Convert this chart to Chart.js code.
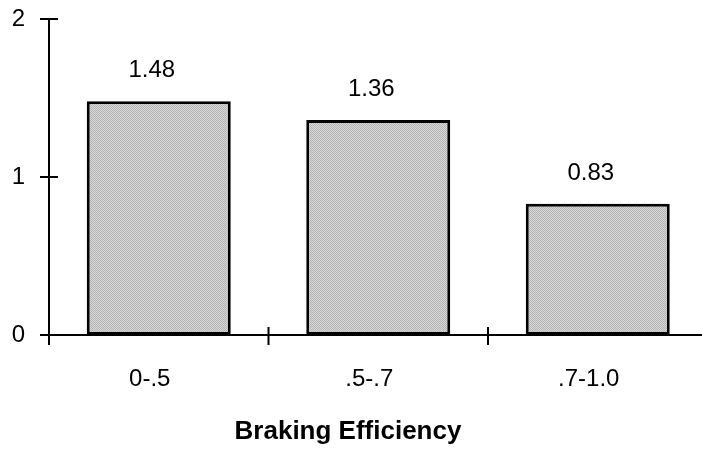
<!DOCTYPE html>
<html>
<head>
<meta charset="utf-8">
<script src="https://cdn.jsdelivr.net/npm/chart.js@4.4.0/dist/chart.umd.min.js"></script>
<style>
  html, body { margin: 0; padding: 0; background: #fff; overflow: hidden; }
  #wrap { width: 710px; height: 450px; }
</style>
</head>
<body>
<div id="wrap"><canvas id="chart" width="710" height="450"></canvas></div>
<script>
const categories = ['0-.5', '.5-.7', '.7-1.0'];
const values = [1.48, 1.36, 0.83];
const yTicks = [0, 1, 2];
const xTitle = 'Braking Efficiency';

const FONT = '"Liberation Sans", Arial, sans-serif';

// grey dotted fill like the old print pattern
function makePattern() {
    const c = document.createElement('canvas');
    c.width = 2;
    c.height = 2;
    const g = c.getContext('2d');
    g.fillStyle = '#d8d8d8';
    g.fillRect(0, 0, 2, 2);
    g.fillStyle = '#b4b4b4';
    g.fillRect(0, 0, 1, 1);
    g.fillRect(1, 1, 1, 1);
    return g.createPattern(c, 'repeat');
}

// axis lines with ticks crossing them, drawn from the scales
const axesPlugin = {
    id: 'axes',
    afterDatasetsDraw(chart) {
        const ctx = chart.ctx;
        const area = chart.chartArea;
        const x = chart.scales.x;
        const y = chart.scales.y;
        const x0 = area.left;
        const y0 = y.getPixelForValue(0);
        ctx.save();
        ctx.strokeStyle = '#000';
        ctx.lineWidth = 2;
        ctx.beginPath();
        ctx.moveTo(x0, y.getPixelForValue(yTicks[yTicks.length - 1]));
        ctx.lineTo(x0, y0 + 10);
        ctx.moveTo(x0, y0);
        ctx.lineTo(chart.width, y0);
        yTicks.forEach(v => {
            const py = y.getPixelForValue(v);
            ctx.moveTo(x0 - 9, py);
            ctx.lineTo(x0 + 9, py);
        });
        for (let i = 1; i <= categories.length; i++) {
            const px = x.getPixelForValue(i - 0.5);
            ctx.moveTo(px, y0 - 8);
            ctx.lineTo(px, y0 + 10);
        }
        ctx.stroke();

        // value labels above the bars
        ctx.fillStyle = '#000';
        ctx.font = '24px ' + FONT;
        ctx.textAlign = 'center';
        ctx.textBaseline = 'alphabetic';
        chart.getDatasetMeta(0).data.forEach((bar, i) => {
            ctx.fillText(values[i].toFixed(2), bar.x - 7, bar.y - 24);
        });

        // axis title
        ctx.font = 'bold 26px ' + FONT;
        ctx.textBaseline = 'middle';
        ctx.fillText(xTitle, 348, 432);
        ctx.restore();
    }
};

new Chart(document.getElementById('chart').getContext('2d'), {
    type: 'bar',
    data: {
        labels: categories,
        datasets: [{
            data: values,
            backgroundColor: makePattern(),
            borderColor: '#000',
            borderWidth: 3,
            borderSkipped: false,
            barPercentage: 0.656,
            categoryPercentage: 1.0,
        }],
    },
    options: {
        responsive: false,
        animation: false,
        layout: { padding: { top: 0, right: 2.5, left: 0, bottom: 0 } },
        plugins: {
            legend: { display: false },
            tooltip: { enabled: false },
        },
        scales: {
            x: {
                grid: { display: false, drawTicks: false },
                border: { display: false },
                ticks: { color: '#000', font: { family: FONT, size: 24 }, padding: 30, labelOffset: -9 },
                afterFit(s) { s.height = 115; },
            },
            y: {
                min: 0,
                max: 2,
                grid: { display: false, drawTicks: false },
                border: { display: false },
                ticks: { stepSize: 1, color: '#000', font: { family: FONT, size: 24 }, padding: 24 },
                afterFit(s) {
                    s.width = 49;
                    s.paddingTop = 19;
                    s.paddingBottom = 0;
                },
            },
        },
    },
    plugins: [axesPlugin],
});
</script>
</body>
</html>
